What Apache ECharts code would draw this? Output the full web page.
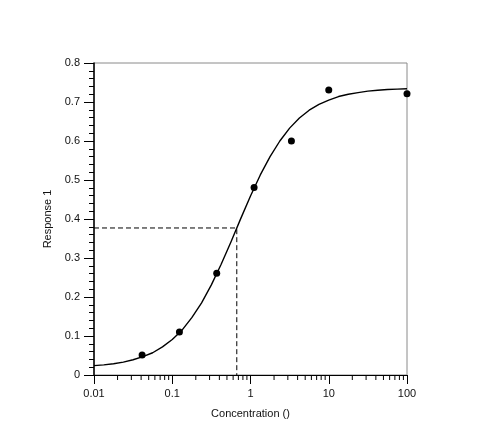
<!DOCTYPE html>
<html>
<head>
<meta charset="utf-8">
<script src="https://cdn.jsdelivr.net/npm/echarts@6/dist/echarts.min.js"></script>
<style>
html,body{margin:0;padding:0;background:#fff;}
#chart{width:500px;height:437px;}
</style>
</head>
<body>
<div id="chart"></div>
<script>
// Measured data points (concentration, response)
const concentrations = [0.0412, 0.1235, 0.370, 1.111, 3.333, 10, 100];
const responses = [0.051, 0.110, 0.261, 0.481, 0.600, 0.731, 0.721];

// Fitted curve (eighth-decade samples)
const curveX = [0.01, 0.01334, 0.01778, 0.02371, 0.03162, 0.04217, 0.05623, 0.07499,
  0.1, 0.1334, 0.1778, 0.2371, 0.3162, 0.4217, 0.5623, 0.7499,
  1, 1.334, 1.778, 2.371, 3.162, 4.217, 5.623, 7.499,
  10, 13.34, 17.78, 23.71, 31.62, 42.17, 56.23, 74.99, 100];
const curveY = [0.024, 0.026, 0.029, 0.033, 0.039, 0.047, 0.057, 0.072,
  0.091, 0.115, 0.147, 0.185, 0.231, 0.284, 0.341, 0.401,
  0.459, 0.513, 0.560, 0.600, 0.633, 0.659, 0.679, 0.694,
  0.705, 0.714, 0.720, 0.724, 0.728, 0.730, 0.732, 0.733, 0.734];

// EC50 guide (dashed)
const ec50X = 0.668;
const ec50Y = 0.377;

// Log-axis minor tick values
const xMinorTicks = [];
[0.01, 0.1, 1, 10].forEach(function (d) {
  [2, 3, 4, 5, 6, 7, 8, 9].forEach(function (m) { xMinorTicks.push(+(d * m).toPrecision(6)); });
});

const xMin = 0.01, xMax = 100, yMin = 0, yMax = 0.8;

const chart = echarts.init(document.getElementById('chart'), null, {renderer: 'canvas'});
const font = 'Liberation Sans, Arial, sans-serif';

chart.setOption({
  animation: false,
  backgroundColor: '#fff',
  grid: {left: 94, right: 93, top: 63, bottom: 62, show: true, borderColor: '#8a8a8a', borderWidth: 1, backgroundColor: 'transparent'},
  xAxis: {
    type: 'log', logBase: 10, min: xMin, max: xMax,
    name: 'Concentration ()', nameLocation: 'middle', nameGap: 33,
    nameTextStyle: {fontFamily: font, fontSize: 11, color: '#111'},
    axisLine: {show: true, onZero: false, lineStyle: {color: '#000', width: 1.2}},
    axisTick: {show: true, inside: false, length: 9, lineStyle: {color: '#000', width: 1}},
    minorTick: {show: false},
    splitLine: {show: false},
    axisLabel: {fontFamily: font, fontSize: 11, color: '#111', margin: 13,
      formatter: function (v) { return String(Number((+v).toPrecision(6))); }}
  },
  yAxis: {
    type: 'value', min: yMin, max: yMax, interval: 0.1,
    name: 'Response 1', nameLocation: 'middle', nameGap: 37, nameRotate: 90,
    nameTextStyle: {fontFamily: font, fontSize: 11, color: '#111'},
    axisLine: {show: true, onZero: false, lineStyle: {color: '#000', width: 1.5}},
    axisTick: {show: true, inside: false, length: 10, lineStyle: {color: '#000', width: 1}},
    minorTick: {show: true, splitNumber: 5, length: 5, lineStyle: {color: '#000', width: 1}},
    splitLine: {show: false},
    minorSplitLine: {show: false},
    axisLabel: {fontFamily: font, fontSize: 11, color: '#111', margin: 14,
      formatter: function (v) { return v === 0 ? '0' : v.toFixed(1); }}
  },
  series: [
    {
      type: 'line', name: 'fit',
      data: curveX.map(function (x, i) { return [x, curveY[i]]; }),
      smooth: false, showSymbol: false, symbol: 'none',
      lineStyle: {color: '#000', width: 1.4, join: 'round'}, silent: true, z: 3
    },
    {
      type: 'line', name: 'ec50',
      data: [[xMin, ec50Y], [ec50X, ec50Y], [ec50X, yMin]],
      showSymbol: false, symbol: 'none',
      lineStyle: {color: '#000', width: 1, type: [5, 3]}, silent: true, z: 2
    },
    {
      type: 'scatter', name: 'data',
      data: concentrations.map(function (x, i) { return [x, responses[i]]; }),
      symbol: 'circle', symbolSize: 7,
      itemStyle: {color: '#000', opacity: 1}, clip: false, z: 4
    },
    {
      type: 'custom', name: 'xminor',
      data: xMinorTicks.map(function (v) { return [v, yMin]; }),
      clip: false, silent: true, z: 5,
      renderItem: function (params, api) {
        const p = api.coord([api.value(0), api.value(1)]);
        return {type: 'line', shape: {x1: p[0], y1: p[1], x2: p[0], y2: p[1] + 5},
          style: {stroke: '#000', lineWidth: 1}};
      }
    }
  ]
});
</script>
</body>
</html>
